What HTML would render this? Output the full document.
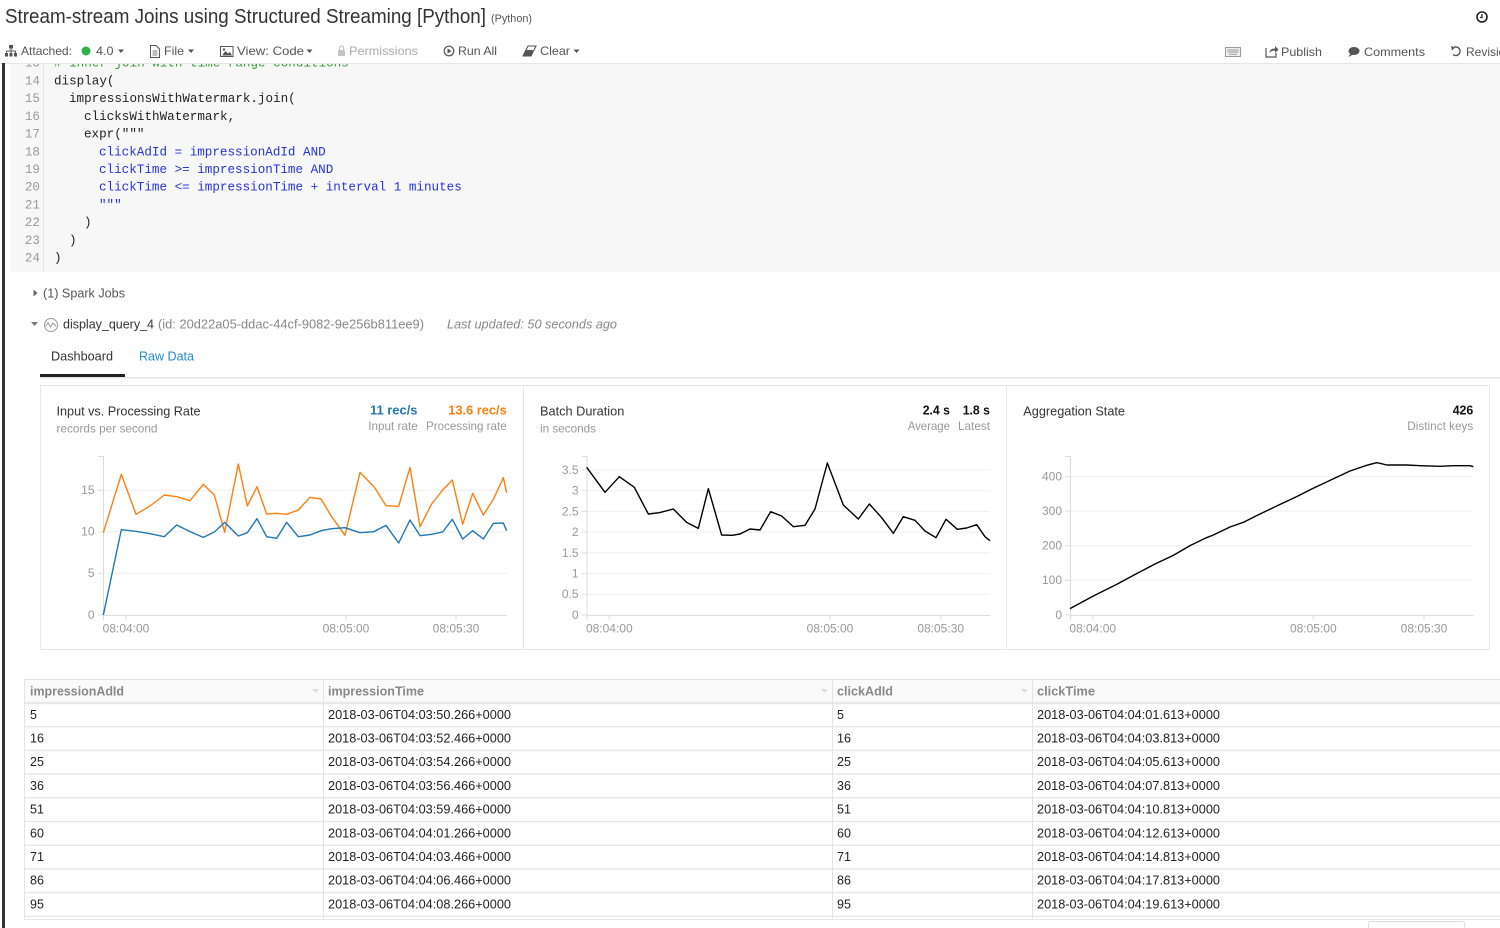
<!DOCTYPE html>
<html><head><meta charset="utf-8"><style>
html,body{margin:0;padding:0;background:#fff;width:1500px;height:928px;overflow:hidden}
svg{display:block}
</style></head><body>
<svg width="1500" height="928" viewBox="0 0 1500 928" font-family="'Liberation Sans', sans-serif">
<!-- code area -->
<rect x="10" y="55" width="1490" height="217" fill="#f7f7f7"/>
<line x1="43.5" y1="55" x2="43.5" y2="272" stroke="#e2e2e2" stroke-width="1"/>
<g font-family="'Liberation Mono', monospace" font-size="12.6">
<g fill="#999" text-anchor="end">
<text x="40" y="66.5">13</text>
<text x="40" y="84.5">14</text>
<text x="40" y="102">15</text>
<text x="40" y="120">16</text>
<text x="40" y="137.5">17</text>
<text x="40" y="155.5">18</text>
<text x="40" y="173">19</text>
<text x="40" y="190.5">20</text>
<text x="40" y="208.5">21</text>
<text x="40" y="226">22</text>
<text x="40" y="244">23</text>
<text x="40" y="261.5">24</text>
</g>
<text x="54" y="66.5" fill="#3a9a3a">#&#160;inner join with time range conditions</text>
<g fill="#222">
<text x="54" y="84.5">display(</text>
<text x="69" y="102">impressionsWithWatermark.join(</text>
<text x="84" y="120">clicksWithWatermark,</text>
<text x="84" y="137.5">expr("""</text>
<text x="84" y="226">)</text>
<text x="69" y="244">)</text>
<text x="54" y="261.5">)</text>
</g>
<g fill="#2634e0">
<text x="99" y="155.5">clickAdId = impressionAdId AND</text>
<text x="99" y="173">clickTime &gt;= impressionTime AND</text>
<text x="99" y="190.5">clickTime &lt;= impressionTime + interval 1 minutes</text>
<text x="99" y="208.5">"""</text>
</g>
</g>
<!-- header/toolbar white cover -->
<rect x="0" y="0" width="1500" height="63" fill="#fff"/>
<line x1="0" y1="63.5" x2="1500" y2="63.5" stroke="#e6e6e6"/>
<rect x="2" y="63" width="3" height="865" fill="#333"/>
<!-- title -->
<text x="5" y="23" font-size="20" fill="#333" textLength="481" lengthAdjust="spacingAndGlyphs">Stream-stream Joins using Structured Streaming [Python]</text>
<text x="491" y="22" font-size="11" fill="#555" textLength="41" lengthAdjust="spacingAndGlyphs">(Python)</text>
<circle cx="1482" cy="17" r="5" fill="none" stroke="#222" stroke-width="1.6"/>
<path d="M1482 14 V17.5 H1480" fill="none" stroke="#222" stroke-width="1.3"/>
<!-- toolbar -->
<g font-size="12" fill="#555">
<!-- sitemap icon -->
<rect x="9" y="45" width="4" height="3.5" fill="#555"/>
<path d="M11 48.5 V51 M6.5 51 H15.5 M6.5 51 V53 M11 51 V53 M15.5 51 V53" stroke="#555" stroke-width="1" fill="none"/>
<rect x="5" y="53" width3="3" width="3" height="3.5" fill="#555"/>
<rect x="9.5" y="53" width="3" height="3.5" fill="#555"/>
<rect x="14" y="53" width="3" height="3.5" fill="#555"/>
<text x="21" y="55.2" textLength="51" lengthAdjust="spacingAndGlyphs">Attached:</text>
<circle cx="86" cy="51" r="4.5" fill="#2eb04a"/>
<text x="96" y="55.2" textLength="17.5" lengthAdjust="spacingAndGlyphs">4.0</text>
<path d="M118 49.5 H124 L121 53 Z" fill="#555"/>
<!-- file -->
<path d="M150.5 45.5 H156 L159.5 49 V57.5 H150.5 Z" fill="none" stroke="#555" stroke-width="1"/>
<path d="M152.5 51 H157.5 M152.5 53 H157.5 M152.5 55 H157.5" stroke="#555" stroke-width="0.8"/>
<text x="164" y="55.2" textLength="20" lengthAdjust="spacingAndGlyphs">File</text>
<path d="M188 49.5 H194 L191 53 Z" fill="#555"/>
<!-- image -->
<rect x="220.5" y="46.5" width="12.5" height="10" fill="none" stroke="#555" stroke-width="1"/>
<path d="M222 55.5 L225.5 51 L228 53.5 L230 52 L232 55.5 Z" fill="#555"/>
<circle cx="224" cy="49.5" r="1.2" fill="#555"/>
<text x="237" y="55.2" textLength="67" lengthAdjust="spacingAndGlyphs">View: Code</text>
<path d="M306.5 49.5 H312.5 L309.5 53 Z" fill="#555"/>
<!-- lock -->
<rect x="338" y="50" width="7" height="6" fill="#c4c4c4"/>
<path d="M339.5 50 V48 A2 2 0 0 1 343.5 48 V50" fill="none" stroke="#c4c4c4" stroke-width="1.2"/>
<text x="349" y="55.2" fill="#aaa" textLength="69" lengthAdjust="spacingAndGlyphs">Permissions</text>
<!-- run all -->
<circle cx="449" cy="51" r="4.8" fill="none" stroke="#555" stroke-width="1.2"/>
<path d="M447.5 48.5 L451.5 51 L447.5 53.5 Z" fill="#555"/>
<text x="458" y="55.2" textLength="39" lengthAdjust="spacingAndGlyphs">Run All</text>
<!-- clear -->
<path d="M523 56 L528 46 H536 L531 56 Z" fill="none" stroke="#555" stroke-width="1.1"/>
<path d="M526 50 H533 L531 56 H523 Z" fill="#555"/>
<text x="540" y="55.2" textLength="30" lengthAdjust="spacingAndGlyphs">Clear</text>
<path d="M573.5 49.5 H579.5 L576.5 53 Z" fill="#555"/>
<!-- right toolbar -->
<rect x="1225.5" y="47.5" width="15" height="9" fill="#eee" stroke="#999" stroke-width="1"/>
<path d="M1227.5 50 H1238.5 M1227.5 52 H1238.5 M1229 54.3 H1237" stroke="#999" stroke-width="0.9"/>
<path d="M1266 48 V57 H1276 V53" fill="none" stroke="#555" stroke-width="1.2"/>
<path d="M1269 53 Q1270 48.5 1275 48.5 V46 L1278.5 49.5 L1275 53 V50.5 Q1271.5 50.5 1269 53 Z" fill="#555"/>
<text x="1281" y="56" textLength="41" lengthAdjust="spacingAndGlyphs">Publish</text>
<ellipse cx="1354" cy="51" rx="5.5" ry="4" fill="#555"/>
<path d="M1350 54 L1348.5 57 L1353 54.5 Z" fill="#555"/>
<text x="1364" y="56" textLength="61" lengthAdjust="spacingAndGlyphs">Comments</text>
<path d="M1453 48 A4.3 4.3 0 1 1 1453 54.5" fill="none" stroke="#555" stroke-width="1.4"/>
<path d="M1451 46 L1455 47.5 L1452 50.5 Z" fill="#555"/>
<text x="1466" y="56">Revisions</text>
</g>
<!-- spark jobs -->
<g font-size="12.5">
<path d="M33.5 289.5 L37.5 293 L33.5 296.5 Z" fill="#666"/>
<text x="43" y="297.5" fill="#555" textLength="82" lengthAdjust="spacingAndGlyphs">(1) Spark Jobs</text>
<path d="M31 322 H38 L34.5 326 Z" fill="#777"/>
<circle cx="51" cy="325" r="6.5" fill="none" stroke="#999" stroke-width="1"/>
<path d="M45.5 326 L48 322.5 L50.5 327 L53 323 L56 326" fill="none" stroke="#999" stroke-width="1"/>
<text x="63" y="328.5" fill="#333" textLength="91" lengthAdjust="spacingAndGlyphs">display_query_4</text>
<text x="158" y="328.5" fill="#888" textLength="266" lengthAdjust="spacingAndGlyphs">(id: 20d22a05-ddac-44cf-9082-9e256b811ee9)</text>
<text x="447" y="328.5" fill="#888" font-style="italic" textLength="170" lengthAdjust="spacingAndGlyphs">Last updated: 50 seconds ago</text>
<text x="51" y="360.5" fill="#333" textLength="62" lengthAdjust="spacingAndGlyphs">Dashboard</text>
<text x="139" y="360.5" fill="#1d8fce" textLength="55" lengthAdjust="spacingAndGlyphs">Raw Data</text>
</g>
<rect x="40" y="377" width="1460" height="1.5" fill="#e6e6e6"/>
<rect x="40" y="374" width="85" height="3" fill="#222"/>
<!-- panels -->
<rect x="40.5" y="385.5" width="483" height="264" fill="#fff" stroke="#e8e8e8"/>
<rect x="523.5" y="385.5" width="483" height="264" fill="#fff" stroke="#e8e8e8"/>
<rect x="1006.5" y="385.5" width="483" height="264" fill="#fff" stroke="#e8e8e8"/>
<!-- panel 1 texts -->
<g font-size="12.5">
<text x="56.5" y="415.3" fill="#333" textLength="144" lengthAdjust="spacingAndGlyphs">Input vs. Processing Rate</text>
<text x="56.5" y="432.5" fill="#999" font-size="12" textLength="101" lengthAdjust="spacingAndGlyphs">records per second</text>
<text x="370" y="414.5" fill="#1f77b4" font-weight="bold" textLength="47.5" lengthAdjust="spacingAndGlyphs">11 rec/s</text>
<text x="448.3" y="414.5" fill="#ff7f0e" font-weight="bold" textLength="58.4" lengthAdjust="spacingAndGlyphs">13.6 rec/s</text>
<text x="368.3" y="430" fill="#999" font-size="12" textLength="49.4" lengthAdjust="spacingAndGlyphs">Input rate</text>
<text x="426" y="430" fill="#999" font-size="12" textLength="80.7" lengthAdjust="spacingAndGlyphs">Processing rate</text>
<!-- panel 2 -->
<text x="540" y="415.3" fill="#333" textLength="84.3" lengthAdjust="spacingAndGlyphs">Batch Duration</text>
<text x="540" y="432.5" fill="#999" font-size="12" textLength="56" lengthAdjust="spacingAndGlyphs">in seconds</text>
<text x="922.7" y="414.5" fill="#111" font-weight="bold" textLength="27.3" lengthAdjust="spacingAndGlyphs">2.4 s</text>
<text x="962.7" y="414.5" fill="#111" font-weight="bold" textLength="27.3" lengthAdjust="spacingAndGlyphs">1.8 s</text>
<text x="907.7" y="430" fill="#999" font-size="12" textLength="42.3" lengthAdjust="spacingAndGlyphs">Average</text>
<text x="958" y="430" fill="#999" font-size="12" textLength="32" lengthAdjust="spacingAndGlyphs">Latest</text>
<!-- panel 3 -->
<text x="1023.3" y="415.3" fill="#333" textLength="101.7" lengthAdjust="spacingAndGlyphs">Aggregation State</text>
<text x="1452.7" y="414.5" fill="#111" font-weight="bold" textLength="20.6" lengthAdjust="spacingAndGlyphs">426</text>
<text x="1407.3" y="430" fill="#999" font-size="12" textLength="66" lengthAdjust="spacingAndGlyphs">Distinct keys</text>
</g>
<!-- chart 1 axes -->
<g stroke="#eee" stroke-width="1">
<line x1="103" y1="490.3" x2="507" y2="490.3"/>
<line x1="103" y1="531.7" x2="507" y2="531.7"/>
<line x1="103" y1="573.3" x2="507" y2="573.3"/>
<line x1="586.7" y1="470" x2="990" y2="470"/>
<line x1="586.7" y1="490.7" x2="990" y2="490.7"/>
<line x1="586.7" y1="511.4" x2="990" y2="511.4"/>
<line x1="586.7" y1="532.1" x2="990" y2="532.1"/>
<line x1="586.7" y1="552.9" x2="990" y2="552.9"/>
<line x1="586.7" y1="573.6" x2="990" y2="573.6"/>
<line x1="586.7" y1="594.3" x2="990" y2="594.3"/>
<line x1="1070" y1="476.7" x2="1473.3" y2="476.7"/>
<line x1="1070" y1="511" x2="1473.3" y2="511"/>
<line x1="1070" y1="545.7" x2="1473.3" y2="545.7"/>
<line x1="1070" y1="580.3" x2="1473.3" y2="580.3"/>
</g>
<g stroke="#ddd" stroke-width="1" fill="none">
<path d="M98 456.5 H103.5 V620 M98 490.3 H103 M98 531.7 H103 M98 573.3 H103 M98 615 H103 M103 615.5 H507 M126 615 V620 M346 615 V620 M456 615 V620"/>
<path d="M582 456.5 H587 V620 M582 470 H587 M582 490.7 H587 M582 511.4 H587 M582 532.1 H587 M582 552.9 H587 M582 573.6 H587 M582 594.3 H587 M582 615 H587 M587 615.5 H990 M609.3 615 V620 M830 615 V620 M940.7 615 V620"/>
<path d="M1065 456.5 H1070.5 V620 M1065 476.7 H1070 M1065 511 H1070 M1065 545.7 H1070 M1065 580.3 H1070 M1065 615 H1070 M1070 615.5 H1473.3 M1092.7 615 V620 M1313.3 615 V620 M1424 615 V620"/>
</g>
<g font-size="12" fill="#999" text-anchor="end">
<text x="94.5" y="494">15</text>
<text x="94.5" y="535.3">10</text>
<text x="94.5" y="577">5</text>
<text x="94.5" y="619">0</text>
<text x="578.5" y="474">3.5</text>
<text x="578.5" y="494.7">3</text>
<text x="578.5" y="515.4">2.5</text>
<text x="578.5" y="536">2</text>
<text x="578.5" y="556.8">1.5</text>
<text x="578.5" y="577.5">1</text>
<text x="578.5" y="598.2">0.5</text>
<text x="578.5" y="619">0</text>
<text x="1062" y="480.6">400</text>
<text x="1062" y="515">300</text>
<text x="1062" y="549.6">200</text>
<text x="1062" y="584.2">100</text>
<text x="1062" y="619">0</text>
</g>
<g font-size="12" fill="#999" text-anchor="middle">
<text x="126" y="632.3">08:04:00</text>
<text x="346" y="632.3">08:05:00</text>
<text x="456" y="632.3">08:05:30</text>
<text x="609.3" y="632.3">08:04:00</text>
<text x="830" y="632.3">08:05:00</text>
<text x="940.7" y="632.3">08:05:30</text>
<text x="1092.7" y="632.3">08:04:00</text>
<text x="1313.3" y="632.3">08:05:00</text>
<text x="1424" y="632.3">08:05:30</text>
</g>
<!-- chart 1 series -->
<g transform="translate(30,380) scale(0.333333)" fill="none" stroke-linejoin="round">
<polyline vector-effect="non-scaling-stroke" stroke="#ff7f0e" stroke-width="1.4" points="220,458 274,283 318,403 360,378 403,345 440,350 480,362 520,313 553,345 584,457 625,252 652,378 681,320 710,402 740,400 770,403 805,390 840,352 873,357 905,410 945,466 990,277 1032,320 1068,377 1106,379 1140,262 1170,440 1205,372 1238,330 1267,300 1298,433 1328,340 1360,405 1390,358 1420,293 1430,338"/>
<polyline vector-effect="non-scaling-stroke" stroke="#1f77b4" stroke-width="1.4" points="220,705 274,449 318,454 360,461 403,470 440,435 480,455 520,472 553,456 584,427 625,468 652,458 681,416 710,470 740,475 770,427 805,470 840,465 873,452 905,446 945,443 990,458 1032,455 1068,436 1106,489 1140,420 1170,467 1205,463 1238,456 1267,418 1298,477 1328,452 1360,477 1390,430 1420,429 1430,452"/>
</g>
<g transform="translate(520,380) scale(0.333333)" fill="none" stroke-linejoin="round">
<polyline vector-effect="non-scaling-stroke" stroke="#000" stroke-width="1.4" points="200,262 255,337 298,290 343,322 385,402 418,398 460,387 500,427 535,445 565,326 605,465 637,466 660,462 690,447 720,450 752,395 785,408 820,440 855,436 885,387 922,249 970,375 1015,417 1048,372 1085,413 1120,460 1150,410 1185,421 1215,453 1248,473 1278,418 1312,448 1340,444 1370,434 1395,470 1410,482"/>
</g>
<g transform="translate(1000,380) scale(0.333333)" fill="none" stroke-linejoin="round">
<polyline vector-effect="non-scaling-stroke" stroke="#000" stroke-width="1.4" points="210,686 280,648 350,613 400,586 465,552 520,526 570,497 615,475 640,465 690,441 730,427 770,407 830,378 890,350 935,327 990,301 1050,273 1100,256 1130,248 1140,250 1160,255 1220,255 1260,257 1320,259 1360,257 1410,257 1420,260"/>
</g>
<!-- table -->
<rect x="24.5" y="679.5" width="1480" height="23.5" fill="#fafafa" stroke="#e4e4e4"/>
<g stroke="#e8e8e8" stroke-width="1.5">
<line x1="24" y1="703" x2="1500" y2="703" stroke-width="2.5"/>
<line x1="24" y1="726.7" x2="1500" y2="726.7"/>
<line x1="24" y1="750.4" x2="1500" y2="750.4"/>
<line x1="24" y1="774.1" x2="1500" y2="774.1"/>
<line x1="24" y1="797.8" x2="1500" y2="797.8"/>
<line x1="24" y1="821.5" x2="1500" y2="821.5"/>
<line x1="24" y1="845.2" x2="1500" y2="845.2"/>
<line x1="24" y1="868.9" x2="1500" y2="868.9"/>
<line x1="24" y1="892.6" x2="1500" y2="892.6"/>
<line x1="24" y1="916.3" x2="1500" y2="916.3"/>
<line x1="24" y1="919.5" x2="1500" y2="919.5" stroke-width="1"/>
</g>
<g stroke="#e4e4e4" stroke-width="1">
<line x1="24.5" y1="679" x2="24.5" y2="920"/>
<line x1="323.5" y1="679" x2="323.5" y2="920"/>
<line x1="832.5" y1="679" x2="832.5" y2="920"/>
<line x1="1032.5" y1="679" x2="1032.5" y2="920"/>
</g>
<path d="M1368.5 928 V924 Q1368.5 921.5 1371 921.5 H1462 Q1464.5 921.5 1464.5 924 V928" fill="#fff" stroke="#ddd"/>
<g fill="#ddd">
<path d="M312 689 H319 L315.5 693 Z"/>
<path d="M821 689 H828 L824.5 693 Z"/>
<path d="M1021 689 H1028 L1024.5 693 Z"/>
</g>
<g font-size="12.5" font-weight="bold" fill="#888">
<text x="30" y="695.5" textLength="94" lengthAdjust="spacingAndGlyphs">impressionAdId</text>
<text x="328" y="695.5" textLength="96" lengthAdjust="spacingAndGlyphs">impressionTime</text>
<text x="837" y="695.5" textLength="56" lengthAdjust="spacingAndGlyphs">clickAdId</text>
<text x="1037" y="695.5" textLength="58" lengthAdjust="spacingAndGlyphs">clickTime</text>
</g>
<g font-size="12.5" fill="#222">
<text x="30" y="718.8">5</text><text x="328" y="718.8" textLength="183" lengthAdjust="spacingAndGlyphs">2018-03-06T04:03:50.266+0000</text><text x="837" y="718.8">5</text><text x="1037" y="718.8" textLength="183" lengthAdjust="spacingAndGlyphs">2018-03-06T04:04:01.613+0000</text>
<text x="30" y="742.5">16</text><text x="328" y="742.5" textLength="183" lengthAdjust="spacingAndGlyphs">2018-03-06T04:03:52.466+0000</text><text x="837" y="742.5">16</text><text x="1037" y="742.5" textLength="183" lengthAdjust="spacingAndGlyphs">2018-03-06T04:04:03.813+0000</text>
<text x="30" y="766.2">25</text><text x="328" y="766.2" textLength="183" lengthAdjust="spacingAndGlyphs">2018-03-06T04:03:54.266+0000</text><text x="837" y="766.2">25</text><text x="1037" y="766.2" textLength="183" lengthAdjust="spacingAndGlyphs">2018-03-06T04:04:05.613+0000</text>
<text x="30" y="789.9">36</text><text x="328" y="789.9" textLength="183" lengthAdjust="spacingAndGlyphs">2018-03-06T04:03:56.466+0000</text><text x="837" y="789.9">36</text><text x="1037" y="789.9" textLength="183" lengthAdjust="spacingAndGlyphs">2018-03-06T04:04:07.813+0000</text>
<text x="30" y="813.6">51</text><text x="328" y="813.6" textLength="183" lengthAdjust="spacingAndGlyphs">2018-03-06T04:03:59.466+0000</text><text x="837" y="813.6">51</text><text x="1037" y="813.6" textLength="183" lengthAdjust="spacingAndGlyphs">2018-03-06T04:04:10.813+0000</text>
<text x="30" y="837.3">60</text><text x="328" y="837.3" textLength="183" lengthAdjust="spacingAndGlyphs">2018-03-06T04:04:01.266+0000</text><text x="837" y="837.3">60</text><text x="1037" y="837.3" textLength="183" lengthAdjust="spacingAndGlyphs">2018-03-06T04:04:12.613+0000</text>
<text x="30" y="861">71</text><text x="328" y="861" textLength="183" lengthAdjust="spacingAndGlyphs">2018-03-06T04:04:03.466+0000</text><text x="837" y="861">71</text><text x="1037" y="861" textLength="183" lengthAdjust="spacingAndGlyphs">2018-03-06T04:04:14.813+0000</text>
<text x="30" y="884.7">86</text><text x="328" y="884.7" textLength="183" lengthAdjust="spacingAndGlyphs">2018-03-06T04:04:06.466+0000</text><text x="837" y="884.7">86</text><text x="1037" y="884.7" textLength="183" lengthAdjust="spacingAndGlyphs">2018-03-06T04:04:17.813+0000</text>
<text x="30" y="908.4">95</text><text x="328" y="908.4" textLength="183" lengthAdjust="spacingAndGlyphs">2018-03-06T04:04:08.266+0000</text><text x="837" y="908.4">95</text><text x="1037" y="908.4" textLength="183" lengthAdjust="spacingAndGlyphs">2018-03-06T04:04:19.613+0000</text>
</g>
</svg>
</body></html>
